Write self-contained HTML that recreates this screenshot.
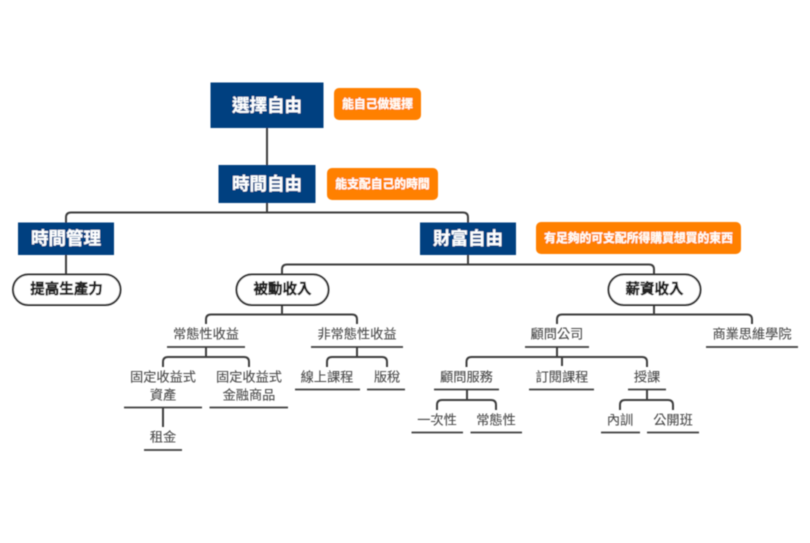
<!DOCTYPE html>
<html lang="zh-Hant">
<head>
<meta charset="utf-8">
<style>
html,body{margin:0;padding:0;background:#fff;width:810px;height:543px;overflow:hidden}
svg{display:block}
text{font-family:"Liberation Sans","Noto Sans CJK TC",sans-serif;text-anchor:middle;dominant-baseline:central}
.h{font-size:17.5px;font-weight:700;fill:#fff;stroke:#fff;stroke-width:.25px}
.o{font-size:11.8px;font-weight:700;fill:#fff;stroke:#fff;stroke-width:.2px}
.p{font-size:14.5px;font-weight:700;fill:#222;stroke:#222;stroke-width:.45px}
.t{font-size:13.2px;fill:#4c4c4c;stroke:#4c4c4c;stroke-width:.12px}
.l{fill:none;stroke:#3e3e3e;stroke-width:2}
.u{fill:none;stroke:#3e3e3e;stroke-width:1.7}
</style>
</head>
<body>
<svg width="810" height="543" viewBox="0 0 810 543" xmlns="http://www.w3.org/2000/svg">
<defs><filter id="b" x="-2%" y="-2%" width="104%" height="104%"><feGaussianBlur stdDeviation="0.5"/></filter></defs>
<rect width="810" height="543" fill="#fff"/>
<g filter="url(#b)">
<!-- connectors -->
<path class="l" d="M267 128V165"/>
<path class="l" d="M267 203V212.5"/>
<path class="l" d="M66 222.5V217.5Q66 212.5 71 212.5H463Q468 212.5 468 217.5V222.5"/>
<path class="l" d="M66 255V274"/>
<path class="l" d="M468 255V264.5"/>
<path class="l" d="M282 274V269.5Q282 264.5 287 264.5H649Q654 264.5 654 269.5V274"/>
<path class="l" d="M282 305V314.5"/>
<path class="l" d="M206 324V319.5Q206 314.5 211 314.5H352Q357 314.5 357 319.5V324"/>
<path class="l" d="M654 305V314.5"/>
<path class="l" d="M557 324V319.5Q557 314.5 562 314.5H747Q752 314.5 752 319.5V324"/>
<path class="l" d="M206 347V357"/>
<path class="l" d="M163 367V362Q163 357 168 357H244Q249 357 249 362V367"/>
<path class="l" d="M357 347V357"/>
<path class="l" d="M327 367V362Q327 357 332 357H382Q387 357 387 362V367"/>
<path class="l" d="M163 407.5V427"/>
<path class="l" d="M557 347V357"/>
<path class="l" d="M466.5 367V362Q466.5 357 471.5 357H642Q647 357 647 362V367"/>
<path class="l" d="M562 357V366"/>
<path class="l" d="M467 389.5V400"/>
<path class="l" d="M437 410V405Q437 400 442 400H491Q496 400 496 405V410"/>
<path class="l" d="M647 389.5V400"/>
<path class="l" d="M620 410V405Q620 400 625 400H668Q673 400 673 405V410"/>
<!-- blue boxes -->
<rect x="210.500" y="82.500" width="113" height="45.500" fill="#004080"/>
<text class="h" x="267" y="105.500">選擇自由</text>
<rect x="218.500" y="165" width="97" height="38" fill="#004080"/>
<text class="h" x="267" y="184">時間自由</text>
<rect x="18" y="222.500" width="96" height="32.500" fill="#004080"/>
<text class="h" x="66" y="238.500">時間管理</text>
<rect x="420" y="222.500" width="96" height="32.500" fill="#004080"/>
<text class="h" x="468" y="238.500">財富自由</text>
<!-- orange notes -->
<rect x="334" y="88" width="87" height="32" rx="5" fill="#ff8000"/>
<text class="o" x="377.500" y="104">能自己做選擇</text>
<rect x="327" y="168" width="111" height="32" rx="5" fill="#ff8000"/>
<text class="o" x="382.500" y="184">能支配自己的時間</text>
<rect x="536" y="222" width="205" height="32" rx="5" fill="#ff8000"/>
<text class="o" x="638.500" y="238">有足夠的可支配所得購買想買的東西</text>
<!-- pills -->
<rect x="13" y="274.500" width="107.500" height="30.500" rx="15.250" fill="#fff" stroke="#333" stroke-width="2"/>
<text class="p" x="66.500" y="290">提高生產力</text>
<rect x="236.500" y="274.500" width="92" height="30.500" rx="15.250" fill="#fff" stroke="#333" stroke-width="2"/>
<text class="p" x="282.500" y="290">被動收入</text>
<rect x="608.500" y="274.500" width="92" height="30.500" rx="15.250" fill="#fff" stroke="#333" stroke-width="2"/>
<text class="p" x="654.500" y="290">薪資收入</text>
<!-- topic labels -->
<text class="t" x="206" y="334">常態性收益</text><path class="u" d="M167 347H245"/>
<text class="t" x="357" y="334">非常態性收益</text><path class="u" d="M311 347H403"/>
<text class="t" x="163" y="377">固定收益式</text><text class="t" x="163" y="395">資產</text><path class="u" d="M124 407.500H202"/>
<text class="t" x="249" y="377">固定收益式</text><text class="t" x="249" y="395">金融商品</text><path class="u" d="M209.500 407.500H288"/>
<text class="t" x="327" y="377">線上課程</text><path class="u" d="M295 389.500H360"/>
<text class="t" x="387" y="377">版稅</text><path class="u" d="M367 389.500H405"/>
<text class="t" x="163" y="437">租金</text><path class="u" d="M144 450H182"/>
<text class="t" x="557" y="334">顧問公司</text><path class="u" d="M525 347H589"/>
<text class="t" x="752" y="334">商業思維學院</text><path class="u" d="M706 347H798"/>
<text class="t" x="466.500" y="377">顧問服務</text><path class="u" d="M434 389.500H499"/>
<text class="t" x="562" y="377">訂閱課程</text><path class="u" d="M529 389.500H594"/>
<text class="t" x="647" y="377">授課</text><path class="u" d="M628 389.500H666"/>
<text class="t" x="437" y="420">一次性</text><path class="u" d="M411.500 432.500H463"/>
<text class="t" x="496" y="420">常態性</text><path class="u" d="M470.500 432.500H522"/>
<text class="t" x="620" y="420">內訓</text><path class="u" d="M601 432.500H640"/>
<text class="t" x="673" y="420">公開班</text><path class="u" d="M647 432.500H699"/>
</g>
</svg>
</body>
</html>
